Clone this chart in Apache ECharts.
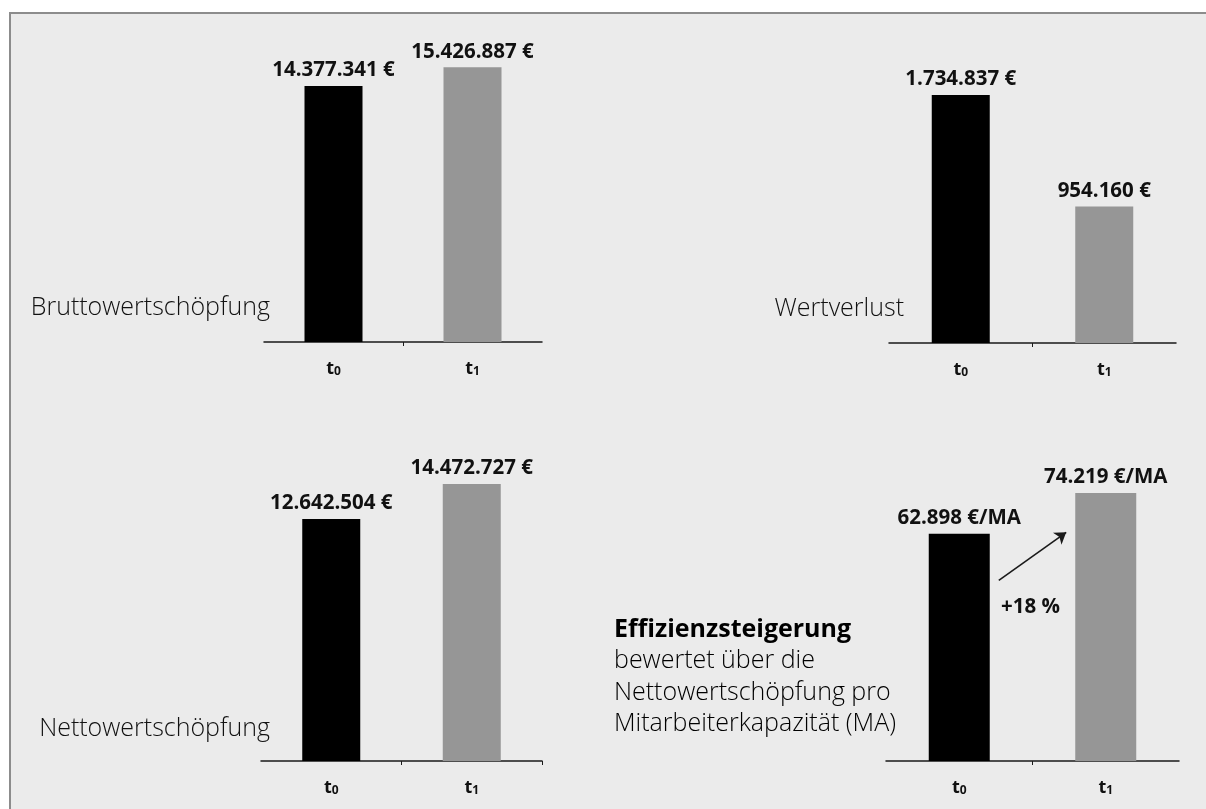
<!DOCTYPE html>
<html>
<head>
<meta charset="utf-8">
<script src="https://cdn.jsdelivr.net/npm/echarts@6/dist/echarts.min.js"></script>
<style>
  html, body { margin: 0; padding: 0; background: #ffffff; overflow: hidden; }
  #frame {
    position: absolute; left: 9px; top: 12px; width: 1197px; height: 797px;
    background: #ebebeb;
    border-left: 2px solid #8c8c8c; border-top: 2px solid #8c8c8c;
    box-sizing: border-box;
  }
  #chart { position: absolute; left: 0; top: 0; width: 1206px; height: 809px; }
</style>
</head>
<body>
<div id="frame"></div>
<div id="chart"></div>
<script>
// Periods on every small chart
const periods = ['t0', 't1'];

// Values per period
const bruttoValues = [14377341, 15426887];   // Bruttowertschöpfung (€)
const verlustValues = [1734837, 954160];     // Wertverlust (€)
const nettoValues = [12642504, 14472727];    // Nettowertschöpfung (€)
const proMaValues = [62898, 74219];          // Nettowertschöpfung pro MA (€/MA)

// Texts
const panelTitles = ['Bruttowertschöpfung', 'Wertverlust', 'Nettowertschöpfung'];
const noteHead = 'Effizienzsteigerung';
const noteLines = ['bewertet über die', 'Nettowertschöpfung pro', 'Mitarbeiterkapazität (MA)'];

// Arrow between the two efficiency bars, in (band position, €/MA) units
const arrowFrom = [0.77, 50000];
const arrowTo = [1.23, 63300];

const barColors = ['#000000', '#969696'];
const FONT = '"Open Sans", "Noto Sans", sans-serif';

// German number formatting: 14377341 -> 14.377.341
function deNum(v) {
  return String(v).replace(/\B(?=(\d{3})+(?!\d))/g, '.');
}

const panels = [
  { values: bruttoValues,  unit: ' €',    max: 16000000, grid: { left: 264, width: 278, top: 57,  height: 285 }, barWidth: 58, endTick: false },
  { values: verlustValues, unit: ' €',    max: 2000000,  grid: { left: 889, width: 287, top: 57,  height: 286 }, barWidth: 58, endTick: false },
  { values: nettoValues,   unit: ' €',    max: 15000000, grid: { left: 261, width: 281, top: 474, height: 287 }, barWidth: 58, endTick: true },
  { values: proMaValues,   unit: ' €/MA', max: 80000,    grid: { left: 886, width: 293, top: 472, height: 289 }, barWidth: 61, endTick: false }
];

const grid = [], xAxis = [], yAxis = [], series = [];

panels.forEach((p, i) => {
  grid.push(Object.assign({ containLabel: false }, p.grid));

  // category axis with the period labels
  xAxis.push({
    type: 'category',
    gridIndex: i,
    data: periods,
    position: 'bottom',
    axisLine: { show: true, lineStyle: { color: '#1a1a1a', width: 1.5 } },
    axisTick: { show: false },
    axisLabel: {
      margin: 16,
      formatter: v => '{t|' + v[0] + '}{s|' + v.slice(1) + '}',
      rich: {
        t: { fontFamily: FONT, fontSize: 18, fontWeight: 'bold', color: '#111', lineHeight: 20, verticalAlign: 'bottom' },
        s: { fontFamily: FONT, fontSize: 12, fontWeight: 'bold', color: '#111', lineHeight: 2, verticalAlign: 'bottom' }
      }
    },
    splitLine: { show: false }
  });

  yAxis.push({
    type: 'value',
    gridIndex: i,
    min: 0,
    max: p.max,
    show: false,
    splitLine: { show: false }
  });

  series.push({
    type: 'bar',
    xAxisIndex: i,
    yAxisIndex: i,
    data: p.values,
    barWidth: p.barWidth,
    itemStyle: { color: params => barColors[params.dataIndex] },
    label: {
      show: true,
      position: 'top',
      distance: 5,
      fontFamily: FONT,
      fontSize: 20.5,
      fontWeight: 'bold',
      color: '#111',
      formatter: params => deNum(params.value) + p.unit
    },
    emphasis: { disabled: true },
    animation: false
  });
});

// companion value axes (0..2 across each plot) that carry the divider ticks
panels.forEach((p, i) => {
  xAxis.push({
    type: 'value',
    gridIndex: i,
    position: 'bottom',
    min: 0,
    max: 2,
    interval: 1,
    axisLine: { show: false },
    axisLabel: { show: false },
    splitLine: { show: false },
    axisTick: {
      show: true,
      length: 4,
      customValues: p.endTick ? [1, 2] : [1],
      lineStyle: { color: '#1a1a1a', width: 1 }
    }
  });
});

// growth arrow in the efficiency panel
series.push({
  type: 'lines',
  coordinateSystem: 'cartesian2d',
  xAxisIndex: 7,
  yAxisIndex: 3,
  symbol: ['none', 'arrow'],
  symbolSize: 11,
  lineStyle: { color: '#1a1a1a', width: 1.6, opacity: 1 },
  data: [{ coords: [arrowFrom, arrowTo] }],
  silent: true,
  animation: false
});

const growth = Math.round((proMaValues[1] / proMaValues[0] - 1) * 100);

const lightText = { fontFamily: FONT, fontSize: 25, fontWeight: 300, fill: '#111' };

const graphic = [
  { type: 'text', right: 1206 - 270, top: 295, style: Object.assign({ text: panelTitles[0] }, lightText) },
  { type: 'text', right: 1206 - 904, top: 296, style: Object.assign({ text: panelTitles[1] }, lightText) },
  { type: 'text', right: 1206 - 270, top: 716, style: Object.assign({ text: panelTitles[2] }, lightText) },
  {
    type: 'text', left: 614, top: 617,
    style: {
      text: '{h|' + noteHead + '}\n' + noteLines.map(l => '{n|' + l + '}').join('\n'),
      rich: {
        h: { fontFamily: FONT, fontSize: 25, fontWeight: 'bold', color: '#111', lineHeight: 31.5 },
        n: { fontFamily: FONT, fontSize: 25, fontWeight: 300, color: '#111', lineHeight: 31.5 }
      }
    }
  },
  {
    type: 'text', left: 1001, top: 597,
    style: { text: '+' + growth + ' %', fontFamily: FONT, fontSize: 20.5, fontWeight: 'bold', fill: '#111' }
  }
];

const chart = echarts.init(document.getElementById('chart'), null, { renderer: 'canvas' });
chart.setOption({
  backgroundColor: 'transparent',
  animation: false,
  grid, xAxis, yAxis, series, graphic
});
</script>
</body>
</html>
